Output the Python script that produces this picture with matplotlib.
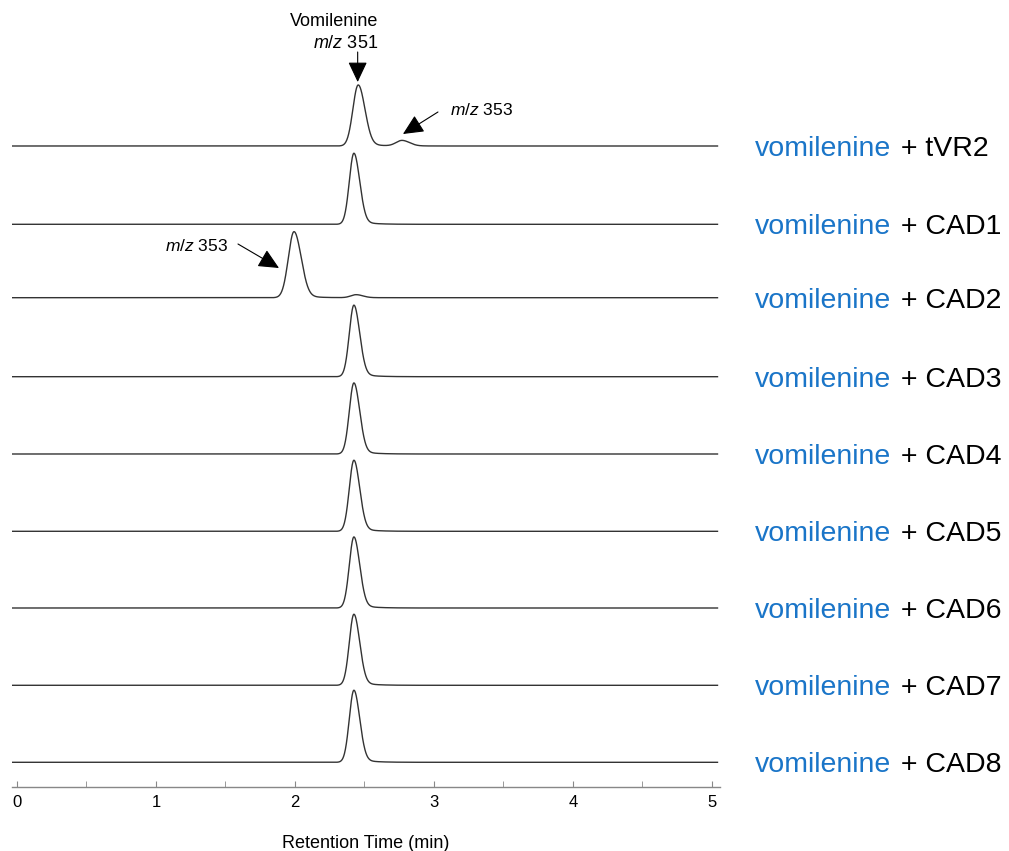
import numpy as np
import matplotlib.pyplot as plt

plt.rcParams['font.family'] = ['Liberation Sans', 'DejaVu Sans']
plt.rcParams['mathtext.fontset'] = 'custom'
plt.rcParams['mathtext.it'] = 'Liberation Sans:italic'
plt.rcParams['mathtext.rm'] = 'Liberation Sans'

# sample names (right-hand labels)
substrate = 'vomilenine'
enzymes = ['tVR2', 'CAD1', 'CAD2', 'CAD3', 'CAD4', 'CAD5', 'CAD6', 'CAD7', 'CAD8']

# vomilenine (m/z 351) peak: retention time (min) and height (arb.)
sub_rt = [2.455, 2.424, 2.44, 2.424, 2.424, 2.424, 2.424, 2.424, 2.424]
sub_height = [61, 71, 3, 71.5, 71, 71, 71, 71, 72]
sub_width = [0.045, 0.039, 0.045, 0.039, 0.039, 0.039, 0.039, 0.039, 0.039]

# reduced product (m/z 353) peak
prod_rt = [2.77, 0, 1.993, 0, 0, 0, 0, 0, 0]
prod_height = [5.5, 0, 66, 0, 0, 0, 0, 0, 0]
prod_width = [0.05, 0.03, 0.048, 0.03, 0.03, 0.03, 0.03, 0.03, 0.03]

# vertical offset of each trace
offsets = [641, 562.7, 489.3, 410.3, 333, 255.7, 179, 101.7, 24.7]


def peak(t, rt, h, w):
    s = np.where(t < rt, w * 0.85, w * 1.05)
    g = np.exp(-0.5 * ((t - rt) / s) ** 2)
    ramp = 1 / (1 + np.exp(-(t - rt - 0.05) / 0.012))
    tail = 0.06 * ramp * np.exp(-(t - rt) / 0.09)
    return h * (g + tail)


t = np.linspace(-0.035, 5.04, 3000)

fig = plt.figure(figsize=(10.09, 8.51), dpi=100)
ax = fig.add_axes([12 / 1009, 64 / 851, 708 / 1009, 787 / 851])
ax.set_xlim(-0.036, 5.058)
ax.set_ylim(0, 787)

for i in range(len(enzymes)):
    y = offsets[i] + peak(t, sub_rt[i], sub_height[i], sub_width[i])
    if prod_height[i] > 0:
        y = y + peak(t, prod_rt[i], prod_height[i], prod_width[i])
    ax.plot(t, y, color='#333333', lw=1.0)
    fig.text(755 / 1009, (offsets[i] + 64 - 10) / 851, substrate, color='#1a75c8',
             fontsize=20.5, va='baseline', ha='left')
    fig.text(893 / 1009, (offsets[i] + 64 - 10) / 851, ' + ' + enzymes[i], color='black',
             fontsize=20.5, va='baseline', ha='left')


def px(xp, yp):
    return (xp - 17) / 139.0, 787 - yp


arrow = dict(arrowstyle='-|>,head_length=0.7,head_width=0.33', color='black',
             lw=0.8, shrinkA=0, shrinkB=0, mutation_scale=18)

# annotations
ax.text(*px(378, 21), 'Vomilenine', ha='right', va='center', fontsize=13)
ax.text(*px(378, 44), r'$m/z$ 351', ha='right', va='center', fontsize=13)
ax.annotate('', xy=px(357.7, 82), xytext=px(357.7, 52), arrowprops=arrow)
ax.text(*px(450, 110), r'$m/z$ 353', ha='left', va='center', fontsize=12.5)
ax.annotate('', xy=px(403, 134), xytext=px(438, 112), arrowprops=arrow)
ax.text(*px(165, 246), r'$m/z$ 353', ha='left', va='center', fontsize=12.5)
ax.annotate('', xy=px(279, 268), xytext=px(238, 244), arrowprops=arrow)

for s in ['top', 'right', 'left']:
    ax.spines[s].set_visible(False)
ax.spines['bottom'].set_color('#888888')
ax.spines['bottom'].set_linewidth(1.0)
ax.set_yticks([])
ax.set_xticks([0, 1, 2, 3, 4, 5])
ax.set_xticks(np.arange(0.5, 5, 1), minor=True)
ax.tick_params(axis='x', which='both', direction='in', length=4, color='#888888',
               labelsize=12, pad=6)
ax.set_xlabel('Retention Time (min)', fontsize=13, labelpad=18)

fig.savefig('out.png', dpi=100)
